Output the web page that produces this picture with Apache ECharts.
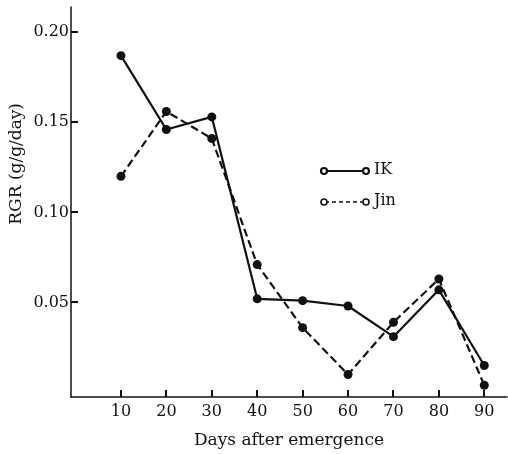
<!DOCTYPE html>
<html>
<head>
<meta charset="utf-8">
<script src="https://cdn.jsdelivr.net/npm/echarts@6/dist/echarts.min.js"></script>
<style>
  html, body { margin: 0; padding: 0; background: #ffffff; }
  #chart { width: 508px; height: 454px; }
</style>
</head>
<body>
<div id="chart"></div>
<script>
// Relative growth rate by days after emergence
const days = [10, 20, 30, 40, 50, 60, 70, 80, 90];
const rgrIK = [0.187, 0.146, 0.153, 0.052, 0.051, 0.048, 0.031, 0.057, 0.015];
const rgrJin = [0.120, 0.156, 0.141, 0.071, 0.036, 0.010, 0.039, 0.063, 0.004];
const xTicks = [10, 20, 30, 40, 50, 60, 70, 80, 90];
const yTicks = [0.05, 0.10, 0.15, 0.20];

const ink = '#111111';
const serif = 'DejaVu Serif';
const xMin = -1, xMax = 95, yMin = -0.0025, yMax = 0.214;
const tickLen = 7;
const W = 508, H = 454;
const plot = { left: 71, right: 1, top: 7, bottom: 57 };

const chart = echarts.init(document.getElementById('chart'), null, { renderer: 'canvas' });

const pairs = (xs, ys) => xs.map((x, i) => [x, ys[i]]);
const hidden = { show: false };

// position along the plot frame for a tick value
function toPixel(x, y) {
  let p = null;
  try { p = chart.convertToPixel({ xAxisIndex: 0, yAxisIndex: 0 }, [x, y]); } catch (e) { p = null; }
  if (p && isFinite(p[0]) && isFinite(p[1])) return p;
  const pw = W - plot.left - plot.right, ph = H - plot.top - plot.bottom;
  return [plot.left + (x - xMin) / (xMax - xMin) * pw, plot.top + (yMax - y) / (yMax - yMin) * ph];
}

const staticGraphics = [
  {
    type: 'text', left: 8, top: 103, rotation: Math.PI / 2,
    style: { text: 'RGR (g/g/day)', fontFamily: serif, fontSize: 17, fill: ink }
  },
  // legend: IK
  { type: 'line', shape: { x1: 325, y1: 171, x2: 365, y2: 171 }, style: { stroke: ink, lineWidth: 2.2 } },
  { type: 'circle', shape: { cx: 324, cy: 171, r: 3 }, style: { fill: '#fff', stroke: ink, lineWidth: 2.2 } },
  { type: 'circle', shape: { cx: 366, cy: 171, r: 3 }, style: { fill: '#fff', stroke: ink, lineWidth: 2.2 } },
  { type: 'text', left: 374, top: 162, style: { text: 'IK', fontFamily: serif, fontSize: 16, fill: ink } },
  // legend: Jin
  { type: 'line', shape: { x1: 325, y1: 202, x2: 365, y2: 202 }, style: { stroke: ink, lineWidth: 1.6, lineDash: [4, 3] } },
  { type: 'circle', shape: { cx: 324, cy: 202, r: 3 }, style: { fill: '#fff', stroke: ink, lineWidth: 1.6 } },
  { type: 'circle', shape: { cx: 366, cy: 202, r: 3 }, style: { fill: '#fff', stroke: ink, lineWidth: 1.6 } },
  { type: 'text', left: 374, top: 193, style: { text: 'Jin', fontFamily: serif, fontSize: 16, fill: ink } }
];

chart.setOption({
  backgroundColor: '#ffffff',
  animation: false,
  grid: Object.assign({ outerBoundsMode: 'none', containLabel: false }, plot),
  xAxis: {
    type: 'value', min: xMin, max: xMax,
    name: 'Days after emergence',
    nameLocation: 'middle',
    nameGap: 35,
    nameTextStyle: { fontFamily: serif, fontSize: 17, color: ink },
    splitLine: hidden, axisTick: hidden,
    axisLine: { show: true, onZero: false, lineStyle: { color: ink, width: 1.5 } },
    axisLabel: { customValues: xTicks, margin: 7, fontFamily: serif, fontSize: 16, color: ink }
  },
  yAxis: {
    type: 'value', min: yMin, max: yMax,
    splitLine: hidden, axisTick: hidden,
    axisLine: { show: true, onZero: false, lineStyle: { color: ink, width: 1.5 } },
    axisLabel: { customValues: yTicks, margin: 2, fontFamily: serif, fontSize: 16, color: ink,
      formatter: v => v.toFixed(2) }
  },
  series: [
    {
      name: 'Jin',
      type: 'line',
      data: pairs(days, rgrJin),
      symbol: 'circle',
      symbolSize: 9,
      itemStyle: { color: ink },
      lineStyle: { color: ink, width: 2.2, type: [8, 4] }
    },
    {
      name: 'IK',
      type: 'line',
      data: pairs(days, rgrIK),
      symbol: 'circle',
      symbolSize: 9,
      itemStyle: { color: ink },
      lineStyle: { color: ink, width: 2.2 }
    }
  ]
});

// inward tick marks on both axes
const tickGraphics = [];
xTicks.forEach(d => {
  const p = toPixel(d, yMin);
  tickGraphics.push({ type: 'rect', z: 10,
    shape: { x: Math.round(p[0]) - 1, y: Math.round(p[1]) - tickLen, width: 2, height: tickLen },
    style: { fill: ink } });
});
yTicks.forEach(v => {
  const p = toPixel(xMin, v);
  tickGraphics.push({ type: 'rect', z: 10,
    shape: { x: Math.round(p[0]), y: Math.round(p[1]) - 1, width: tickLen, height: 2 },
    style: { fill: ink } });
});

chart.setOption({ graphic: { elements: staticGraphics.concat(tickGraphics) } });
</script>
</body>
</html>
